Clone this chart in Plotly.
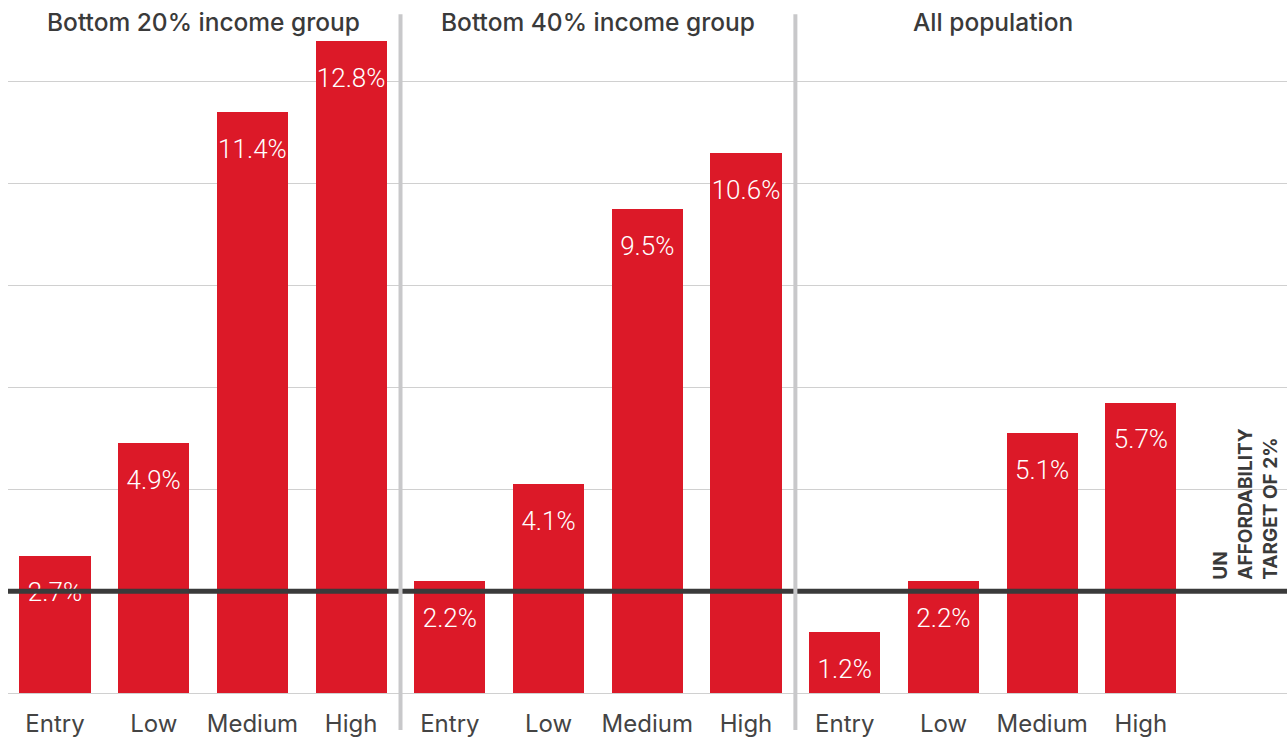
import plotly.graph_objects as go

groups = ["Bottom 20% income group", "Bottom 40% income group", "All population"]
levels = ["Entry", "Low", "Medium", "High"]
bottom20 = [2.7, 4.9, 11.4, 12.8]
bottom40 = [2.2, 4.1, 9.5, 10.6]
all_pop = [1.2, 2.2, 5.1, 5.7]
target = 2.0
target_label = "UN<br>AFFORDABILITY<br>TARGET OF 2%"

RED = "#DC1928"
DARK = "#3a3a3a"
GRID = "#d0d0d0"
SEP = "#c8c8ca"
LABEL_FONT = "Roboto, Liberation Sans, sans-serif"
MAIN_FONT = "Inter, Lato, Open Sans, sans-serif"

series = [bottom20, bottom40, all_pop]
xs, ys, cats = [], [], []
for gi, vals in enumerate(series):
    for li, v in enumerate(vals):
        xs.append(gi * 4 + li)
        ys.append(v)
        cats.append(levels[li])

fig = go.Figure()
fig.add_trace(go.Bar(x=xs, y=ys, width=0.72, marker=dict(color=RED, line=dict(width=0)),
                     hoverinfo="skip", showlegend=False))
label_offset = 0.77
fig.add_trace(go.Scatter(x=xs, y=[v - label_offset for v in ys], mode="text",
                         text=[f"{v:.1f}%" for v in ys], textposition="middle center",
                         textfont=dict(family=LABEL_FONT, size=26, color="white", weight=300),
                         hoverinfo="skip", showlegend=False, cliponaxis=False))

# 2% target line
fig.add_shape(type="line", xref="paper", yref="y", x0=0, x1=1, y0=target, y1=target,
              line=dict(color=DARK, width=5), layer="above")

# panel separators
for sx in [3.5, 7.5]:
    fig.add_shape(type="line", xref="x", yref="paper", x0=sx, x1=sx, y0=-0.054, y1=0.988,
                  line=dict(color=SEP, width=4), layer="above")

# panel titles
for gi, g in enumerate(groups):
    fig.add_annotation(x=gi * 4 + 1.5, y=1.0, xref="x", yref="paper", yanchor="middle",
                       yshift=-16, text=g, showarrow=False,
                       font=dict(family=MAIN_FONT, size=24.5, color="#3a3a3a", weight=500))

fig.add_annotation(x=12.06, y=target, xref="x", yref="y", text="<b>" + target_label + "</b>",
                   textangle=-90, showarrow=False, align="left", yanchor="bottom", yshift=9,
                   font=dict(family=MAIN_FONT, size=19, color="#3a3a3a"))

fig.update_layout(
    width=1287, height=738, margin=dict(l=8, r=0, t=6, b=45),
    paper_bgcolor="white", plot_bgcolor="white", bargap=0,
    xaxis=dict(range=[-0.476, 12.48], tickmode="array", tickvals=xs, ticktext=cats,
               showgrid=False, zeroline=False, showline=False, ticks="",
               ticklabelstandoff=14,
               tickfont=dict(family=MAIN_FONT, size=24, color="#444444")),
    yaxis=dict(range=[0, 13.49], dtick=2, showgrid=True, gridcolor=GRID, gridwidth=1,
               zeroline=True, zerolinecolor=GRID, zerolinewidth=1,
               showticklabels=False, ticks=""),
)
fig.write_html("out.html")
